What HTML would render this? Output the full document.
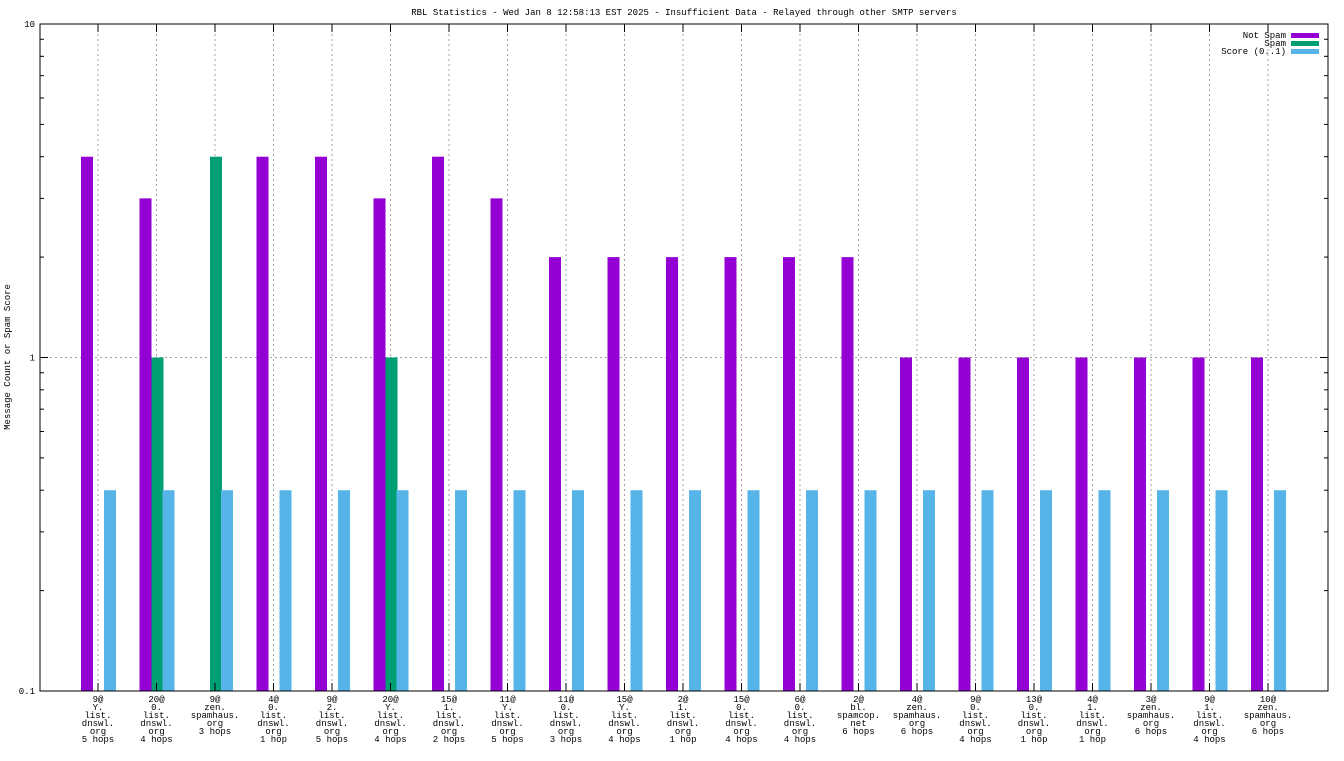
<!DOCTYPE html>
<html><head><meta charset="utf-8"><style>
body{margin:0;background:#fff}
svg text{font-family:"Liberation Mono",monospace;font-size:9px;fill:#000}
</style></head><body>
<svg id="c" width="1344" height="756" xmlns="http://www.w3.org/2000/svg">
<text x="684" y="15" text-anchor="middle">RBL Statistics - Wed Jan  8 12:58:13 EST 2025 - Insufficient Data - Relayed through other SMTP servers</text>
<text transform="translate(10,357) rotate(-90)" text-anchor="middle">Message Count or Spam Score</text>
<g id="grid"></g><g id="bars"></g><g id="axes"></g><g id="xl"></g>
<g>
<text x="1286" y="38" text-anchor="end">Not Spam</text><rect x="1291" y="33" width="28" height="5" fill="#9400d3"/>
<text x="1286" y="46" text-anchor="end">Spam</text><rect x="1291" y="41" width="28" height="5" fill="#009e73"/>
<text x="1286" y="54" text-anchor="end">Score (0..1)</text><rect x="1291" y="49" width="28" height="5" fill="#56b4e9"/>
</g>
</svg>
<script>
const categories=[["9@","Y.","list.","dnswl.","org","5 hops"],["20@","0.","list.","dnswl.","org","4 hops"],["9@","zen.","spamhaus.","org","3 hops"],["4@","0.","list.","dnswl.","org","1 hop"],["9@","2.","list.","dnswl.","org","5 hops"],["20@","Y.","list.","dnswl.","org","4 hops"],["15@","1.","list.","dnswl.","org","2 hops"],["11@","Y.","list.","dnswl.","org","5 hops"],["11@","0.","list.","dnswl.","org","3 hops"],["15@","Y.","list.","dnswl.","org","4 hops"],["2@","1.","list.","dnswl.","org","1 hop"],["15@","0.","list.","dnswl.","org","4 hops"],["6@","0.","list.","dnswl.","org","4 hops"],["2@","bl.","spamcop.","net","6 hops"],["4@","zen.","spamhaus.","org","6 hops"],["9@","0.","list.","dnswl.","org","4 hops"],["13@","0.","list.","dnswl.","org","1 hop"],["4@","1.","list.","dnswl.","org","1 hop"],["3@","zen.","spamhaus.","org","6 hops"],["9@","1.","list.","dnswl.","org","4 hops"],["10@","zen.","spamhaus.","org","6 hops"]];
const notSpam=[4,3,0,4,4,3,4,3,2,2,2,2,2,2,1,1,1,1,1,1,1];
const spam=[0,1,4,0,0,1,0,0,0,0,0,0,0,0,0,0,0,0,0,0,0];
const score=[0.4,0.4,0.4,0.4,0.4,0.4,0.4,0.4,0.4,0.4,0.4,0.4,0.4,0.4,0.4,0.4,0.4,0.4,0.4,0.4,0.4];
const yTicks=[0.1,1,10];
const yTickLabels=["0.1","1","10"];
const NS="http://www.w3.org/2000/svg";
const L=40,R=1328,T=24,B=691;
const y=v=>B-(Math.log10(v)+1)/2*(B-T);
const x=i=>98+i*58.5;
function mk(p,t,a){const e=document.createElementNS(NS,t);for(const k in a)e.setAttribute(k,a[k]);document.getElementById(p).appendChild(e);return e;}
// grid
categories.forEach((c,i)=>{const g=mk('grid','line',{x1:x(i),x2:x(i),y1:T,y2:B,stroke:'#a0a0a0','stroke-dasharray':'2,3'});

});
yTicks.forEach((v,i)=>{if(i>0&&i<yTicks.length-1){const g=mk('grid','line',{x1:L,x2:R,y1:y(v),y2:y(v),stroke:'#a0a0a0','stroke-dasharray':'2,3'});

}
const t=mk('axes','text',{x:L-5,y:y(v)+3,'text-anchor':'end'});t.textContent=yTickLabels[i];

});
// minor ticks
for(let d=0.1;d<10;d*=10){for(let m=1;m<10;m++){const v=d*m;const len=m==1?8:4;
mk('axes','line',{x1:L,x2:L+len,y1:y(v),y2:y(v),stroke:'#000'});
mk('axes','line',{x1:R,x2:R-len,y1:y(v),y2:y(v),stroke:'#000'});}}
const ax=mk('axes','rect',{x:L,y:T,width:R-L,height:B-T,fill:'none',stroke:'#000'});


// bars
function bar(v,off,col,name){if(v<=0)return;const top=y(v);const r=mk('bars','rect',{x:off,y:top,width:12,height:B-top,fill:col});

}
categories.forEach((c,i)=>{
bar(notSpam[i],x(i)-17,'#9400d3','bar-not-spam');
bar(spam[i],x(i)-5,'#009e73','bar-spam');
bar(score[i],x(i)+6,'#56b4e9','bar-score');
mk('axes','line',{x1:x(i),x2:x(i),y1:B,y2:B-8,stroke:'#000'});
mk('axes','line',{x1:x(i),x2:x(i),y1:T,y2:T+8,stroke:'#000'});
const t=mk('xl','text',{x:x(i),y:702,'text-anchor':'middle'});


c.forEach((ln,j)=>{const s=document.createElementNS(NS,'tspan');s.setAttribute('x',x(i));s.setAttribute('dy',j?8:0);s.textContent=ln;t.appendChild(s);});
});
</script>
</body></html>
